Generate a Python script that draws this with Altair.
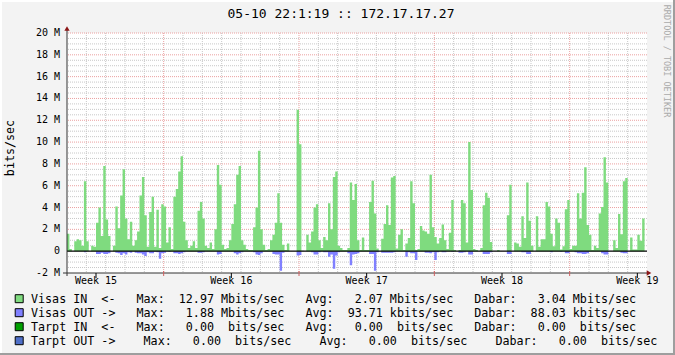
import altair as alt
import pandas as pd
import numpy as np

# ---------------- data (Mbits/sec, 8 samples of 3 h per day, 30 days) ----------------
visas_in_by_day = [
    [1.6, 0.2, 0, 0.9, 1.1, 1.0, 0.5, 6.4],
    [0.9, 0, 0.5, 0.4, 2.6, 4.0, 1.4, 7.8],
    [2.9, 1.4, 0, 0.5, 4.1, 2.1, 5.1, 7.5],
    [3.0, 1.1, 2.7, 0.5, 1.0, 1.8, 5.1, 6.8],
    [3.3, 0.4, 3.6, 5.0, 0.4, 3.8, 0.3, 4.3],
    [4.1, 0.8, 2.2, 0.2, 5.0, 5.7, 7.3, 8.7],
    [2.7, 1.0, 0.3, 0.5, 0.9, 0.3, 3.7, 4.5],
    [3.0, 0.5, 0.3, 0.8, 0.2, 2.0, 7.9, 6.1],
    [0.6, 0.2, 0.3, 1.0, 2.5, 4.3, 7.0, 7.8],
    [1.0, 0.6, 0.2, 0.1, 0.1, 2.2, 4.0, 9.2],
    [2.0, 0.6, 0.1, 0.2, 1.0, 1.5, 2.6, 5.3],
    [2.6, 0.6, 0.1, 0.7, 0, 0, 0, 12.97],
    [9.8, 0.05, 0, 1.5, 0.8, 1.8, 4.0, 4.3],
    [1.0, 0.3, 1.3, 1.0, 4.4, 2.0, 6.8, 7.3],
    [0.5, 0.3, 0.1, 0.1, 0.3, 6.3, 4.7, 6.15],
    [1.0, 0.1, 1.25, 0.1, 0.1, 4.5, 6.45, 3.45],
    [0.25, 0, 1.15, 2.5, 4.2, 2.4, 6.75, 6.9],
    [0.25, 1.5, 2.0, 0.1, 0.7, 1.2, 6.4, 4.4],
    [0.1, 0.2, 2.3, 1.9, 1.8, 1.6, 7.0, 2.2],
    [1.3, 0.7, 1.2, 2.45, 1.0, 0.2, 1.7, 4.7],
    [0.1, 0, 0.1, 4.7, 4.4, 0.8, 10.0, 5.6],
    [0.2, 0.1, 0, 0.3, 4.2, 5.35, 4.9, 0.85],
    [0, 0, 0.1, 0, 0, 0, 3.3, 6.1],
    [0, 0.8, 0.7, 0.4, 3.2, 1.2, 6.3, 2.8],
    [0.5, 0, 3.2, 0.4, 1.1, 1.1, 4.5, 4.1],
    [1.6, 0.45, 3.0, 2.6, 0.15, 0.45, 3.85, 4.7],
    [0.2, 0.5, 0.5, 5.3, 3.0, 5.35, 7.7, 2.4],
    [1.5, 0.1, 0.5, 0.3, 3.45, 4.05, 8.6, 6.3],
    [0, 0, 1.0, 0.3, 3.4, 1.55, 6.4, 6.7],
    [0, 1.25, 0.15, 0.15, 1.5, 0.95, 3.0, 0],
]
visas_out_by_day = [
    [0, 0, 0, 0, 0, 0, 0, 0.1],
    [0, 0, 0, 0, 0.25, 0.25, 0.15, 0.25],
    [0.25, 0.2, 0, 0, 0.15, 0.2, 0.35, 0.2],
    [0.3, 0.1, 0.15, 0, 0.15, 0.2, 0.2, 0.3],
    [0.45, 0.1, 0.2, 0.2, 0.05, 0.1, 0.7, 0.2],
    [0.15, 0, 0.05, 0, 0.2, 0.2, 0.25, 0.2],
    [0.1, 0, 0, 0, 0, 0, 0.15, 0.15],
    [0.1, 0, 0, 0, 0, 0, 0.3, 0.25],
    [0, 0, 0, 0, 0, 0.2, 0.3, 0.2],
    [0.1, 0, 0, 0, 0, 0.1, 0.3, 0.35],
    [0.2, 0, 0, 0, 0, 0.25, 0.3, 0.3],
    [1.8, 0.15, 0, 0, 0, 0, 0, 0.4],
    [0.35, 0, 0, 0, 0, 0.1, 0.3, 0.3],
    [0.1, 0, 0.1, 0.1, 0.5, 0.3, 1.6, 0.4],
    [0.1, 0, 0, 0, 0.2, 1.3, 0.3, 0.25],
    [0.2, 0, 0, 0, 0, 0.25, 0.25, 1.8],
    [0.1, 0, 0.15, 0.15, 0.15, 0.15, 0.15, 0.1],
    [0, 0, 0, 0, 0.5, 0.1, 0.2, 0.2],
    [0.8, 0, 0, 0, 0.15, 0.15, 0.2, 0.1],
    [0.8, 0.1, 0, 0.1, 0.1, 0, 0, 0.05],
    [0, 0, 0.15, 0.15, 0.1, 0, 0.3, 0.3],
    [0, 0, 0, 0, 0.25, 0.25, 0.25, 0.1],
    [0, 0, 0, 0, 0, 0, 0.25, 0.25],
    [0, 0, 0, 0, 0.1, 0.1, 0.25, 0.25],
    [0, 0, 0, 0, 0, 0, 0, 0],
    [0.1, 0, 0, 0, 0.05, 0, 0.2, 0.2],
    [0, 0, 0.1, 0.2, 0.2, 0.25, 0.25, 0.2],
    [0, 0, 0, 0, 0, 0.2, 0.3, 0.3],
    [0, 0, 0, 0, 0, 0.15, 0.2, 0.2],
    [0, 0, 0, 0, 0, 0, 0, 0],
]

week_positions = [1.5, 8.5, 15.5, 22.5, 29.5]
week_labels = ["Week 15", "Week 16", "Week 17", "Week 18", "Week 19"]
major_days = [5, 12, 19, 26]
y_tick_values = [-2, 0, 2, 4, 6, 8, 10, 12, 14, 16, 18, 20]
y_tick_labels = ["-2 M", "0\u00a0\u00a0", "2 M", "4 M", "6 M", "8 M", "10 M",
                 "12 M", "14 M", "16 M", "18 M", "20 M"]

legend_names = ["Visas IN  <-", "Visas OUT ->", "Tarpt IN  <-", "Tarpt OUT ->"]
legend_max = [12.97, 1.88, 0.00, 0.00]
legend_max_unit = ["M", "M", " ", " "]
legend_avg = [2.07, 93.71, 0.00, 0.00]
legend_avg_unit = ["M", "k", " ", " "]
legend_cur = [3.04, 88.03, 0.00, 0.00]
legend_cur_unit = ["M", "k", " ", " "]
legend_gaps = [3, 3, 3, 4]
legend_colors = ["#80DC80", "#8080FF", "#00A000", "#4F6FC8"]

title_text = "05-10 22:1:19 :: 172.17.17.27"

# ---------------- style ----------------
W, H = 580, 240
GREEN = "#7FDB7F"
BLUE = "#8080FF"
GRID = "#C8C8C8"
MGRID = "#EBA0A0"
AXIS = "#333333"
ARROW = "#8B1515"
MONO = "DejaVu Sans Mono"

rows = []
for d in range(len(visas_in_by_day)):
    for k in range(8):
        t = d + k / 8
        rows.append({"t": t, "v": visas_in_by_day[d][k], "s": "in", "z": 0})
        rows.append({"t": t, "v": -visas_out_by_day[d][k], "s": "out", "z": 0})
rows.append({"t": 30, "v": 0, "s": "in", "z": 0})
rows.append({"t": 30, "v": 0, "s": "out", "z": 0})
df = pd.DataFrame(rows)

xscale = alt.Scale(domain=[0, 30], nice=False, zero=False)
yscale = alt.Scale(domain=[-2, 20], nice=False, zero=False)

one = pd.DataFrame({"a": [0]})

v_minor = [float(d) for d in range(1, 30) if d not in major_days]
h_minor = [float(v) for v in np.arange(-1.5, 20.01, 0.5) if abs(v % 2) > 1e-9]
h_major = [float(v) for v in y_tick_values if v > 0]

layers = []
layers.append(alt.Chart(pd.DataFrame({"d": v_minor})).mark_rule(
    color=GRID, strokeDash=[1, 1], strokeWidth=1).encode(
    x=alt.X("d:Q", scale=xscale, axis=None)))
layers.append(alt.Chart(pd.DataFrame({"hv": h_minor})).mark_rule(
    color=GRID, strokeDash=[1, 1], strokeWidth=1).encode(
    y=alt.Y("hv:Q", scale=yscale, axis=None)))
layers.append(alt.Chart(pd.DataFrame({"d": [float(m) for m in major_days]})).mark_rule(
    color=MGRID, strokeDash=[1, 1], strokeWidth=1).encode(
    x=alt.X("d:Q", scale=xscale, axis=None)))
layers.append(alt.Chart(pd.DataFrame({"hv": h_major})).mark_rule(
    color=MGRID, strokeDash=[1, 1], strokeWidth=1).encode(
    y=alt.Y("hv:Q", scale=yscale, axis=None)))

area = alt.Chart(df).mark_area(interpolate="step-after", opacity=1).encode(
    x=alt.X("t:Q", scale=xscale, axis=None),
    y=alt.Y("v:Q", scale=yscale, stack=None, axis=None),
    y2="z:Q",
    color=alt.Color("s:N", scale=alt.Scale(domain=["in", "out"], range=[GREEN, BLUE]),
                    legend=None),
)
layers.append(area)

# zero line
layers.append(alt.Chart(pd.DataFrame({"hv": [0.0]})).mark_rule(color="black", strokeWidth=1.2).encode(
    y=alt.Y("hv:Q", scale=yscale, axis=None)))

# axes lines
layers.append(alt.Chart(one).mark_rule(color=AXIS, strokeWidth=1).encode(
    x=alt.value(0), y=alt.value(-5), y2=alt.value(H + 3)))
layers.append(alt.Chart(one).mark_rule(color=AXIS, strokeWidth=1).encode(
    y=alt.value(H), x=alt.value(-4), x2=alt.value(W + 2)))
# week ticks + major ticks
layers.append(alt.Chart(pd.DataFrame({"d": week_positions})).mark_rule(color="black").encode(
    x=alt.X("d:Q", scale=xscale, axis=None), y=alt.value(H), y2=alt.value(H + 5)))
layers.append(alt.Chart(pd.DataFrame({"d": [float(m) for m in major_days]})).mark_rule(
    color="#D06060").encode(
    x=alt.X("d:Q", scale=xscale, axis=None), y=alt.value(H - 2), y2=alt.value(H + 3)))
# arrows
layers.append(alt.Chart(one).mark_point(shape="triangle-up", filled=True, size=28,
                                        color=ARROW, opacity=1).encode(
    x=alt.value(0), y=alt.value(-4.5)))
layers.append(alt.Chart(one).mark_point(shape="triangle-right", filled=True, size=28,
                                        color=ARROW, opacity=1).encode(
    x=alt.value(W + 2), y=alt.value(H)))

# tick labels
layers.append(alt.Chart(pd.DataFrame({"yv": [float(v) for v in y_tick_values],
                                      "lab": y_tick_labels})).mark_text(
    font=MONO, fontSize=10, color="black", align="right", baseline="middle").encode(
    y=alt.Y("yv:Q", scale=yscale, axis=None), x=alt.value(-7), text="lab:N"))
layers.append(alt.Chart(pd.DataFrame({"wx": week_positions, "lab": week_labels})).mark_text(
    font=MONO, fontSize=10, color="black", align="center", baseline="top").encode(
    x=alt.X("wx:Q", scale=xscale, axis=None), y=alt.value(H + 3), text="lab:N"))

# texts
layers.append(alt.Chart(one).mark_text(text=title_text, font=MONO, fontSize=13, color="black",
                                       align="center", baseline="alphabetic").encode(
    x=alt.value(274), y=alt.value(-14.7)))
layers.append(alt.Chart(one).mark_text(text="bits/sec", font=MONO, fontSize=11.7, color="black",
                                       angle=270, align="center", baseline="middle").encode(
    x=alt.value(-57), y=alt.value(115)))
layers.append(alt.Chart(one).mark_text(text="RRDTOOL / TOBI OETIKER", font=MONO, fontSize=8.5,
                                       color="#AAAAAA", angle=90, align="center",
                                       baseline="middle").encode(
    x=alt.value(599.5), y=alt.value(28)))

NB = "\u00a0"
for i, name in enumerate(legend_names):
    g = " " * legend_gaps[i]
    s = (f"{name}{g}Max:{legend_max[i]:7.2f} {legend_max_unit[i]}bits/sec{g}"
         f"Avg:{legend_avg[i]:7.2f} {legend_avg_unit[i]}bits/sec{g}"
         f"Dabar:{legend_cur[i]:7.2f} {legend_cur_unit[i]}bits/sec")
    s = s.replace(" ", NB)
    yb = 270 + 14 * i
    layers.append(alt.Chart(one).mark_text(text=s, font=MONO, fontSize=11.7, color="black",
                                           align="left", baseline="alphabetic").encode(
        x=alt.value(-36), y=alt.value(yb)))
    layers.append(alt.Chart(one).mark_square(size=64, filled=True, color=legend_colors[i],
                                             stroke="black", strokeWidth=1, opacity=1).encode(
        x=alt.value(-47.8), y=alt.value(yb - 4.3)))

# outer frame
layers.append(alt.Chart(one).mark_rule(color="#FFFFFF", strokeWidth=2).encode(
    y=alt.value(-32), x=alt.value(-67), x2=alt.value(608)))
layers.append(alt.Chart(one).mark_rule(color="#FFFFFF", strokeWidth=2).encode(
    x=alt.value(-66), y=alt.value(-33), y2=alt.value(322)))
layers.append(alt.Chart(one).mark_rule(color="#9E9E9E", strokeWidth=2).encode(
    y=alt.value(321), x=alt.value(-67), x2=alt.value(608)))
layers.append(alt.Chart(one).mark_rule(color="#9E9E9E", strokeWidth=2).encode(
    x=alt.value(607), y=alt.value(-33), y2=alt.value(322)))

chart = alt.layer(*layers).properties(
    width=W, height=H, background="#F3F3F3",
    padding={"left": 67, "top": 33, "right": 28, "bottom": 82},
    autosize=alt.AutoSizeParams(type="none"),
).configure_view(fill="white", stroke=None)

chart.save("out.html", embed_options={"renderer": "svg", "actions": False})
